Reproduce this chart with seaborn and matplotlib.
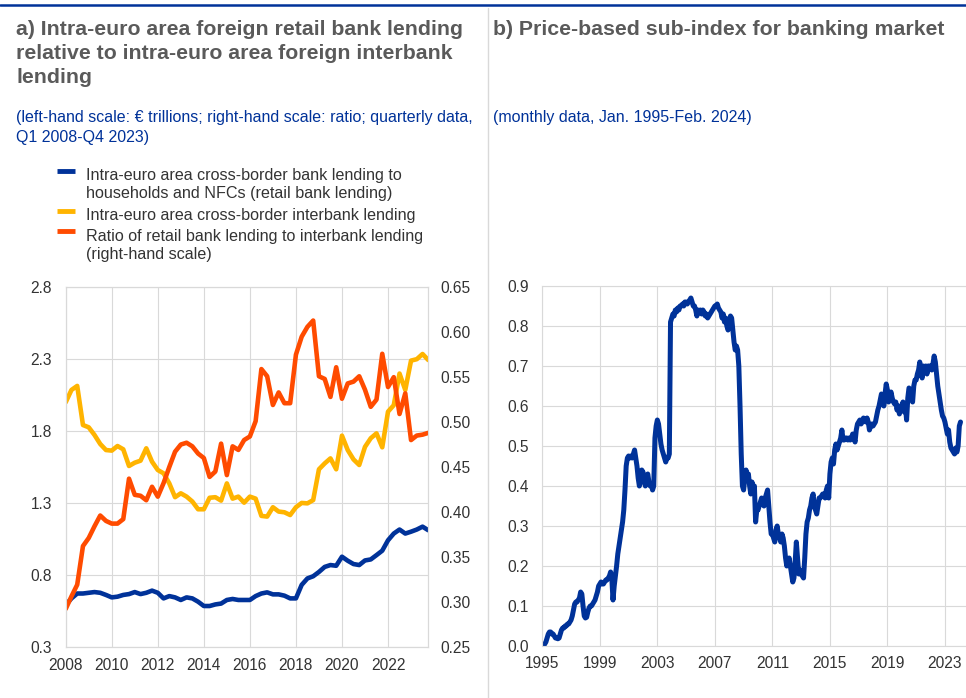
import numpy as np
import pandas as pd
import matplotlib
matplotlib.use("Agg")
import matplotlib.pyplot as plt
import seaborn as sns
from matplotlib.lines import Line2D
from matplotlib.ticker import FormatStrFormatter

# --- panel a: quarterly data, Q1 2008 - Q4 2023 ---
retail = [0.59, 0.636, 0.67, 0.67, 0.675, 0.68, 0.675, 0.66,
          0.643, 0.648, 0.66, 0.666, 0.68, 0.666, 0.675, 0.69,
          0.675, 0.636, 0.652, 0.643, 0.625, 0.643, 0.636, 0.613,
          0.583, 0.583, 0.594, 0.60, 0.625, 0.632, 0.625, 0.625,
          0.625, 0.652, 0.67, 0.678, 0.664, 0.664, 0.655, 0.636,
          0.636, 0.73, 0.775, 0.79, 0.82, 0.855, 0.868, 0.863,
          0.926, 0.898, 0.875, 0.868, 0.90, 0.907, 0.937, 0.968,
          1.04, 1.087, 1.115, 1.087, 1.10, 1.115, 1.135, 1.11]
interbank = [2.0, 2.086, 2.114, 1.842, 1.826, 1.773, 1.71, 1.668,
             1.664, 1.696, 1.673, 1.557, 1.58, 1.594, 1.68, 1.587,
             1.529, 1.506, 1.436, 1.34, 1.367, 1.344, 1.31, 1.256,
             1.256, 1.336, 1.34, 1.316, 1.436, 1.33, 1.344, 1.302,
             1.344, 1.33, 1.21, 1.205, 1.27, 1.24, 1.235, 1.216,
             1.27, 1.30, 1.297, 1.32, 1.534, 1.575, 1.61, 1.534,
             1.768, 1.668, 1.603, 1.564, 1.69, 1.75, 1.784, 1.687,
             1.935, 1.98, 2.2, 2.086, 2.29, 2.30, 2.336, 2.294]
ratio = [0.292, 0.306, 0.319, 0.362, 0.371, 0.384, 0.396, 0.390,
         0.387, 0.387, 0.392, 0.437, 0.419, 0.418, 0.413, 0.428,
         0.417, 0.432, 0.450, 0.467, 0.475, 0.477, 0.473, 0.465,
         0.460, 0.439, 0.445, 0.476, 0.441, 0.473, 0.469, 0.480,
         0.484, 0.501, 0.559, 0.551, 0.519, 0.533, 0.521, 0.521,
         0.575, 0.595, 0.606, 0.613, 0.551, 0.548, 0.528, 0.561,
         0.526, 0.543, 0.545, 0.551, 0.536, 0.517, 0.525, 0.576,
         0.539, 0.550, 0.509, 0.532, 0.480, 0.485, 0.486, 0.488]
labels_a = [["Intra-euro area cross-border bank lending to",
             "households and NFCs (retail bank lending)"],
            ["Intra-euro area cross-border interbank lending"],
            ["Ratio of retail bank lending to interbank lending",
             "(right-hand scale)"]]

# --- panel b: monthly data, Jan. 1995 - Feb. 2024 ---
price_index = [
    0.0, 0.0, 0.005, 0.01, 0.02, 0.03, 0.035, 0.035, 0.03, 0.03, 0.025, 0.02,        # 1995
    0.02, 0.018, 0.02, 0.03, 0.04, 0.045, 0.045, 0.05, 0.05, 0.055, 0.055, 0.06,     # 1996
    0.065, 0.075, 0.09, 0.105, 0.11, 0.11, 0.115, 0.12, 0.135, 0.13, 0.10, 0.075,    # 1997
    0.07, 0.072, 0.085, 0.095, 0.10, 0.10, 0.105, 0.11, 0.115, 0.125, 0.135, 0.15,   # 1998
    0.155, 0.16, 0.155, 0.155, 0.16, 0.165, 0.165, 0.17, 0.175, 0.185, 0.17, 0.115,  # 1999
    0.15, 0.175, 0.20, 0.23, 0.25, 0.27, 0.29, 0.31, 0.34, 0.39, 0.45, 0.47,         # 2000
    0.475, 0.47, 0.475, 0.47, 0.48, 0.49, 0.47, 0.45, 0.42, 0.40, 0.41, 0.44,        # 2001
    0.435, 0.42, 0.40, 0.42, 0.43, 0.41, 0.40, 0.405, 0.39, 0.40, 0.52, 0.55,        # 2002
    0.565, 0.555, 0.53, 0.505, 0.49, 0.48, 0.47, 0.46, 0.47, 0.47, 0.48, 0.81,       # 2003
    0.82, 0.83, 0.825, 0.84, 0.835, 0.845, 0.84, 0.85, 0.85, 0.855, 0.85, 0.86,      # 2004
    0.86, 0.855, 0.86, 0.865, 0.87, 0.86, 0.85, 0.85, 0.84, 0.825, 0.84, 0.835,      # 2005
    0.84, 0.83, 0.84, 0.835, 0.825, 0.83, 0.82, 0.825, 0.83, 0.835, 0.84, 0.845,     # 2006
    0.85, 0.85, 0.855, 0.845, 0.84, 0.835, 0.82, 0.83, 0.81, 0.82, 0.80, 0.79,       # 2007
    0.80, 0.825, 0.82, 0.79, 0.76, 0.74, 0.75, 0.74, 0.70, 0.60, 0.48, 0.40,         # 2008
    0.39, 0.42, 0.44, 0.425, 0.43, 0.40, 0.38, 0.41, 0.39, 0.40, 0.31, 0.34,         # 2009
    0.34, 0.35, 0.36, 0.37, 0.36, 0.35, 0.37, 0.38, 0.39, 0.35, 0.31, 0.28,          # 2010
    0.28, 0.27, 0.26, 0.29, 0.30, 0.28, 0.27, 0.26, 0.28, 0.27, 0.25, 0.22,          # 2011
    0.20, 0.21, 0.22, 0.20, 0.18, 0.16, 0.17, 0.21, 0.26, 0.22, 0.18, 0.19,          # 2012
    0.18, 0.175, 0.17, 0.22, 0.28, 0.31, 0.32, 0.34, 0.35, 0.37, 0.38, 0.35,         # 2013
    0.34, 0.33, 0.35, 0.37, 0.37, 0.375, 0.38, 0.38, 0.37, 0.39, 0.40, 0.37,         # 2014
    0.43, 0.46, 0.47, 0.455, 0.49, 0.505, 0.49, 0.50, 0.51, 0.52, 0.54, 0.515,       # 2015
    0.515, 0.52, 0.52, 0.515, 0.52, 0.515, 0.52, 0.53, 0.52, 0.51, 0.54, 0.555,      # 2016
    0.56, 0.565, 0.555, 0.56, 0.57, 0.565, 0.56, 0.57, 0.56, 0.54, 0.55, 0.555,      # 2017
    0.55, 0.555, 0.56, 0.575, 0.59, 0.60, 0.615, 0.63, 0.62, 0.60, 0.63, 0.655,      # 2018
    0.64, 0.61, 0.625, 0.635, 0.62, 0.61, 0.605, 0.61, 0.59, 0.60, 0.58, 0.60,       # 2019
    0.60, 0.61, 0.585, 0.60, 0.565, 0.62, 0.645, 0.64, 0.62, 0.61, 0.65, 0.665,      # 2020
    0.665, 0.68, 0.69, 0.71, 0.68, 0.67, 0.70, 0.69, 0.70, 0.68, 0.70, 0.70,         # 2021
    0.70, 0.69, 0.705, 0.725, 0.71, 0.68, 0.65, 0.63, 0.61, 0.59, 0.575, 0.57,       # 2022
    0.56, 0.545, 0.53, 0.54, 0.51, 0.495, 0.49, 0.485, 0.48, 0.495, 0.485, 0.50,     # 2023
    0.55, 0.56,                                                                      # 2024
]

BLUE, YELLOW, ORANGE = "#003299", "#FFB400", "#FF4B00"
GRID = "#d9d9d9"
TXT = "#333333"
TITLE = "#5a5a5a"

df_a = pd.DataFrame({"year": 2008 + np.arange(len(retail)) / 4,
                     "retail": retail, "interbank": interbank, "ratio": ratio})
df_b = pd.DataFrame({"year": 1995 + np.arange(len(price_index)) / 12,
                     "index": price_index})

sns.set_theme(style="whitegrid", rc={"grid.color": GRID, "grid.linewidth": 0.8,
                                     "axes.edgecolor": GRID, "axes.linewidth": 0.8})
plt.rcParams["font.family"] = ["Liberation Sans", "DejaVu Sans"]

fig = plt.figure(figsize=(9.66, 6.98), dpi=100)
W, H = 966, 698

def fx(px):
    return px / W

def fy(py):
    return 1 - py / H

# --- panel a ---
ax = fig.add_axes([fx(65.7), fy(646.7), fx(428.3 - 65.7), 359.4 / H])
sns.lineplot(data=df_a, x="year", y="retail", ax=ax, color=BLUE, lw=3.3)
sns.lineplot(data=df_a, x="year", y="interbank", ax=ax, color=YELLOW, lw=3.3)
ax.set_xlim(2008, 2023.75)
ax.set_ylim(0.3, 2.8)
ax.set_xticks(range(2008, 2023, 2))
ax.set_yticks([0.3, 0.8, 1.3, 1.8, 2.3, 2.8])
ax.yaxis.set_major_formatter(FormatStrFormatter("%.1f"))
ax.set_xlabel("")
ax.set_ylabel("")
ax.tick_params(axis="both", length=0, labelsize=11.2, colors=TXT)
ax.tick_params(axis="y", pad=10)
ax.tick_params(axis="x", pad=8)

ax_r = ax.twinx()
sns.lineplot(data=df_a, x="year", y="ratio", ax=ax_r, color=ORANGE, lw=3.3)
ax_r.set_ylim(0.25, 0.65)
ax_r.set_yticks(np.arange(0.25, 0.66, 0.05))
ax_r.yaxis.set_major_formatter(FormatStrFormatter("%.2f"))
ax_r.grid(False)
ax_r.set_ylabel("")
ax_r.tick_params(axis="y", length=0, labelsize=11.2, colors=TXT, pad=9)

# --- panel b ---
bx = fig.add_axes([fx(542.3), fy(646), fx(W - 542.3), 360 / H])
sns.lineplot(data=df_b, x="year", y="index", ax=bx, color=BLUE, lw=3.6)
bx.set_xlim(1995, 1995 + (W - 542.3) / 14.38)
bx.set_ylim(0, 0.9)
bx.set_xticks(range(1995, 2024, 4))
bx.set_yticks(np.arange(0, 0.91, 0.1))
bx.yaxis.set_major_formatter(FormatStrFormatter("%.1f"))
bx.set_xlabel("")
bx.set_ylabel("")
bx.spines["right"].set_visible(False)
bx.tick_params(axis="both", length=0, labelsize=11.2, colors=TXT)
bx.tick_params(axis="y", pad=10)
bx.tick_params(axis="x", pad=7)

# --- frame lines ---
fig.add_artist(Line2D([0, 1], [fy(5), fy(5)], transform=fig.transFigure, color=BLUE, lw=1.8))
fig.add_artist(Line2D([fx(488), fx(488)], [0, fy(8)], transform=fig.transFigure, color=GRID, lw=1))

# --- titles (one text per line, placed on baselines) ---
title_a = ["a) Intra-euro area foreign retail bank lending",
           "relative to intra-euro area foreign interbank",
           "lending"]
for line, yb in zip(title_a, [35, 59, 83]):
    fig.text(fx(16), fy(yb), line, fontsize=15.3, fontweight="bold", color=TITLE,
             va="baseline", ha="left")
fig.text(fx(493), fy(35), "b) Price-based sub-index for banking market",
         fontsize=15.3, fontweight="bold", color=TITLE, va="baseline", ha="left")

sub_a = ["(left-hand scale: € trillions; right-hand scale: ratio; quarterly data,",
         "Q1 2008-Q4 2023)"]
for line, yb in zip(sub_a, [122, 142]):
    fig.text(fx(16), fy(yb), line, fontsize=11.5, color=BLUE, va="baseline", ha="left")
fig.text(fx(493), fy(122), "(monthly data, Jan. 1995-Feb. 2024)",
         fontsize=11.5, color=BLUE, va="baseline", ha="left")

# --- legend (panel a) ---
legend_y = [171, 211, 231]
legend_base = [[180, 198.5], [220], [240.5, 258.5]]
for col, lines, ym, bases in zip([BLUE, YELLOW, ORANGE], labels_a, legend_y, legend_base):
    fig.add_artist(Line2D([fx(57), fx(75)], [fy(ym), fy(ym)], transform=fig.transFigure,
                          color=col, lw=3.5, solid_capstyle="butt"))
    for line, yb in zip(lines, bases):
        fig.text(fx(86), fy(yb), line, fontsize=11.6, color=TXT, va="baseline", ha="left")

fig.savefig("out.png", dpi=100)
